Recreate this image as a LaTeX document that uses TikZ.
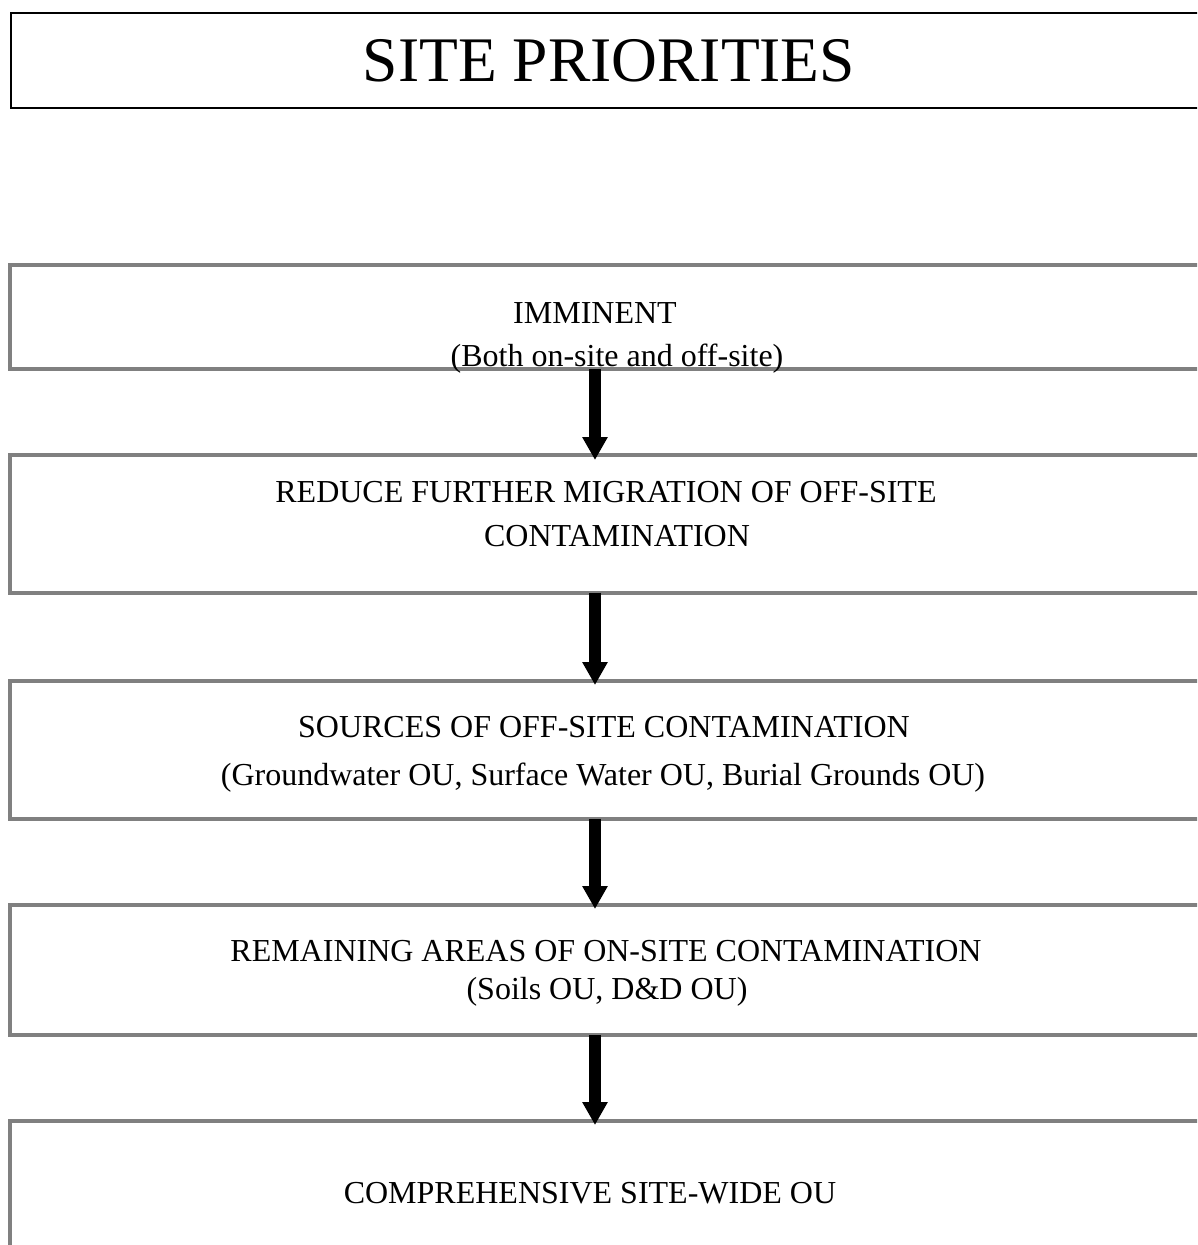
\documentclass[tikz,border=0pt]{standalone}
\usepackage{fontspec}
\setmainfont{Liberation Serif}
\usetikzlibrary{arrows.meta}
\definecolor{boxgray}{RGB}{128,128,128}
\tikzset{
  titlebox/.style={draw=black, line width=2.5pt, rectangle, outer sep=0pt, inner sep=0pt, minimum width=1209pt},
  stagebox/.style={draw=boxgray, line width=4pt, rectangle, outer sep=0pt, inner sep=0pt, minimum width=1210pt},
  txt/.style={anchor=base, inner sep=0pt, font=\fontsize{32pt}{38pt}\selectfont},
  bigarrow/.style={line width=12pt, -{Triangle[width=24pt,length=23pt]}, black}
}
\begin{document}
\begin{tikzpicture}[x=1pt,y=-1pt]
\useasboundingbox (0,0) rectangle (1197,1245);
\clip (0,0) rectangle (1197,1245);
% title
\node[titlebox, minimum height=95pt] (title) at (615.5,60.5) {};
\node[anchor=base, inner sep=0pt, font=\fontsize{63.5pt}{70pt}\selectfont] (titletext) at (609,81) {SITE PRIORITIES};
% stage boxes
\node[stagebox, minimum height=104pt] (b1) at (615,317) {};
\node[stagebox, minimum height=137.5pt] (b2) at (615,523.75) {};
\node[stagebox, minimum height=137.5pt] (b3) at (615,749.75) {};
\node[stagebox, minimum height=130pt] (b4) at (615,970) {};
\node[stagebox, minimum height=179pt] (b5) at (615,1210.5) {};
% texts
\node[txt] (t1a) at (595,323) {IMMINENT};
\node[txt] (t1b) at (617,366) {(Both on-site and off-site)};
\node[txt] (t2a) at (606,502) {REDUCE FURTHER MIGRATION OF OFF-SITE};
\node[txt] (t2b) at (617,546) {CONTAMINATION};
\node[txt] (t3a) at (604,737) {SOURCES OF OFF-SITE CONTAMINATION};
\node[txt] (t3b) at (603,785) {(Groundwater OU, Surface Water OU, Burial Grounds OU)};
\node[txt] (t4a) at (606,961) {REMAINING AREAS OF ON-SITE CONTAMINATION};
\node[txt] (t4b) at (607,999) {(Soils OU, D\&D OU)};
\node[txt] (t5a) at (590,1203) {COMPREHENSIVE SITE-WIDE OU};
% arrows
\coordinate (ax) at (595,0);
\draw[bigarrow] (b1.south -| ax) -- ([yshift=-5pt]b2.north -| ax);
\draw[bigarrow] (b2.south -| ax) -- ([yshift=-4pt]b3.north -| ax);
\draw[bigarrow] (b3.south -| ax) -- ([yshift=-4pt]b4.north -| ax);
\draw[bigarrow] (b4.south -| ax) -- ([yshift=-4pt]b5.north -| ax);
\end{tikzpicture}
\end{document}
